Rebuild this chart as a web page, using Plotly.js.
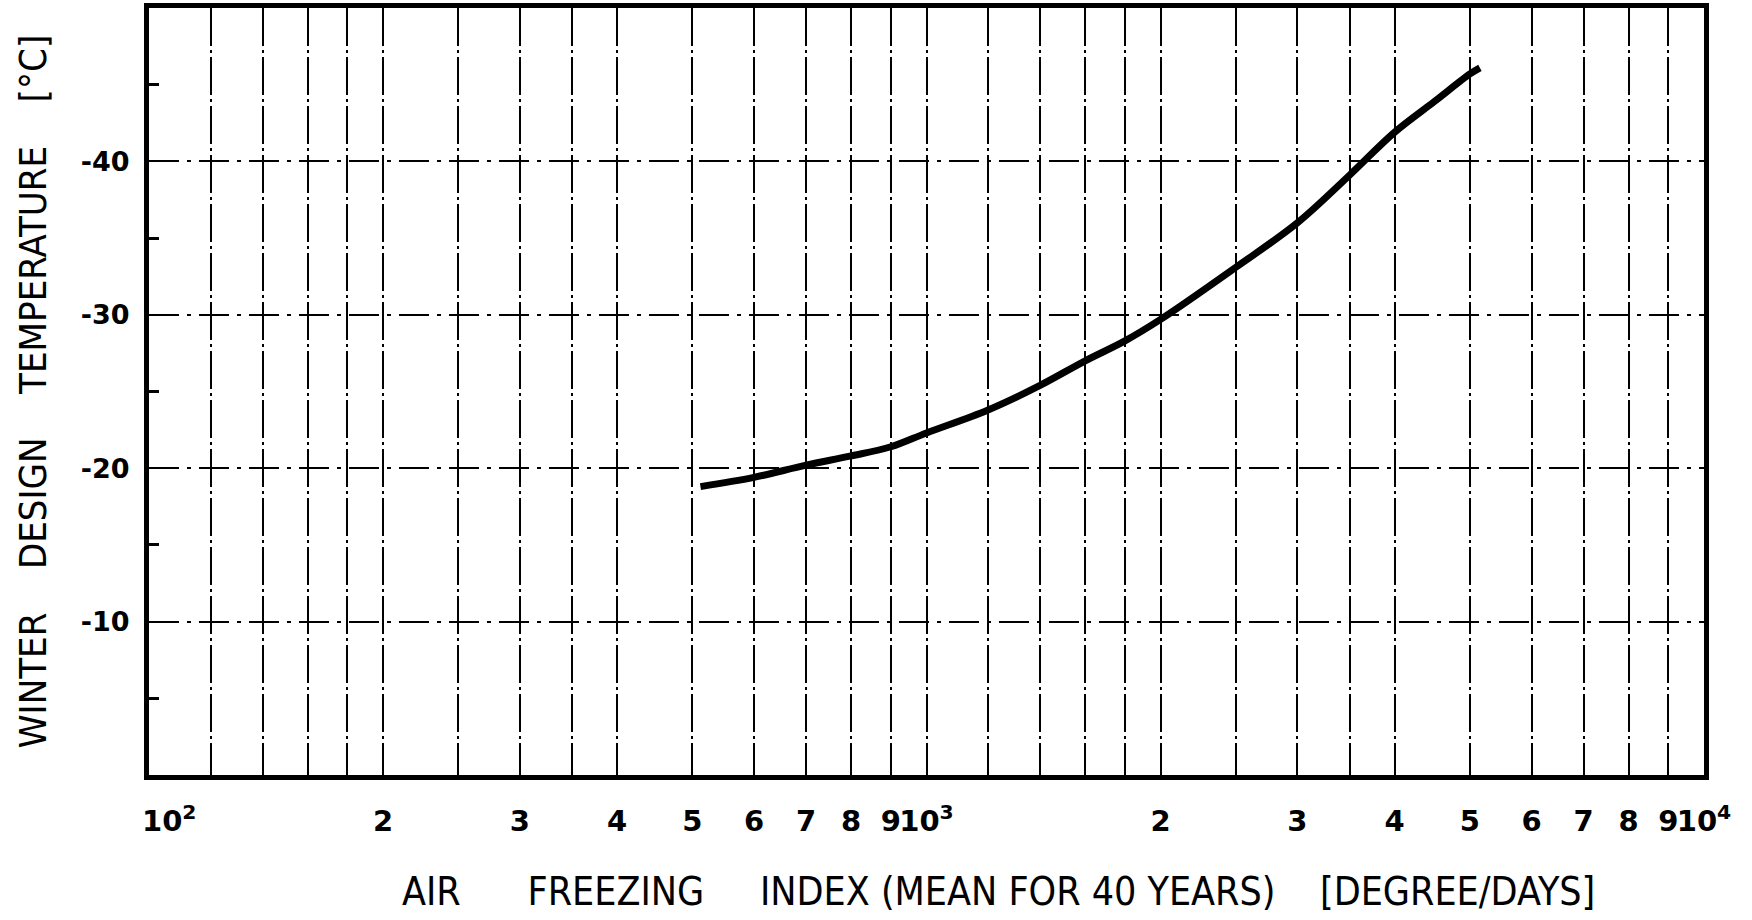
<!DOCTYPE html>
<html>
<head>
<meta charset="utf-8">
<script src="https://cdn.plot.ly/plotly-3.0.1.min.js"></script>
<style>
  html, body { margin: 0; padding: 0; background: #ffffff; }
  #chart { width: 1752px; height: 920px; }
</style>
</head>
<body>
<div id="chart"></div>
<script>
// Air freezing index (degree-days)
const freezingIndex = [512, 600, 700, 800, 900, 1000, 1200, 1400, 1600, 1800, 2000, 2500, 3000, 3500, 4000, 4500, 5000, 5150];
// Winter design temperature (°C)
const designTemp = [-18.8, -19.4, -20.2, -20.8, -21.4, -22.3, -23.8, -25.4, -27.0, -28.3, -29.7, -33.1, -36.0, -39.1, -41.9, -43.9, -45.7, -46.1];

// x-axis labelled ticks
const NB = "\u00A0";
const xTickVals = [100, 200, 300, 400, 500, 600, 700, 800, 900,
                   1000, 2000, 3000, 4000, 5000, 6000, 7000, 8000, 9000, 10000];
const xTickText = [NB.repeat(4) + "10<sup>2</sup>", "2", "3", "4", "5", "6", "7", "8", "9",
                   "10<sup>3</sup>", "2", "3", "4", "5", "6", "7", "8", "9", "10<sup>4</sup>"];
// extra grid lines between labelled ticks
const xMinorVals = [120, 140, 160, 180, 250, 350, 1200, 1400, 1600, 1800, 2500, 3500];

// y-axis ticks
const yTickVals = [-10, -20, -30, -40];
const yTickText = ["-10", "-20", "-30", "-40"];
const yMinorVals = [-5, -15, -25, -35, -45];

const xTitle = "AIR" + NB.repeat(6) + "FREEZING" + NB.repeat(5) + "INDEX" + NB + "(MEAN" + NB + "FOR" + NB + "40" + NB + "YEARS)" + NB.repeat(4) + "[DEGREE/DAYS]";
const yTitle = "WINTER" + NB.repeat(4) + "DESIGN" + NB.repeat(4) + "TEMPERATURE" + NB.repeat(4) + "[°C]";

const titleFont = { family: '"DejaVu Sans Condensed", "Liberation Sans Narrow", "DejaVu Sans", sans-serif', size: 38, color: '#000' };
const xTitleFont = { family: '"DejaVu Sans Condensed", "Liberation Sans Narrow", "DejaVu Sans", sans-serif', size: 39, color: '#000' };
const xTickFont = { family: '"DejaVu Sans", "Liberation Sans", sans-serif', size: 29, color: '#000', weight: 'bold' };
const yTickFont = { family: '"DejaVu Sans", "Liberation Sans", sans-serif', size: 27, color: '#000', weight: 'bold' };

const trace = {
  x: freezingIndex,
  y: designTemp,
  type: 'scatter',
  mode: 'lines',
  line: { color: '#000', width: 7, shape: 'spline', smoothing: 1 },
  hoverinfo: 'x+y',
  showlegend: false
};

const layout = {
  width: 1752,
  height: 920,
  paper_bgcolor: '#ffffff',
  plot_bgcolor: '#ffffff',
  margin: { l: 149, r: 48, t: 8, b: 145 },
  showlegend: false,
  xaxis: {
    type: 'log',
    range: [2, 4],
    tickmode: 'array',
    tickvals: xTickVals,
    ticktext: xTickText,
    tickfont: xTickFont,
    tickangle: 0,
    ticks: '',
    ticklabelstandoff: 16,
    ticklabeloverflow: 'allow',
    showgrid: true,
    gridcolor: '#000',
    gridwidth: 2,
    griddash: '38px,4px,3px,4px',
    showline: true,
    linecolor: '#000',
    linewidth: 5,
    mirror: true,
    zeroline: false,
    minor: {
      tickmode: 'array',
      tickvals: xMinorVals,
      ticks: '',
      showgrid: true,
      gridcolor: '#000',
      gridwidth: 2,
      griddash: '38px,4px,3px,4px'
    }
  },
  yaxis: {
    range: [0, -50],
    tickmode: 'array',
    tickvals: yTickVals,
    ticktext: yTickText,
    tickfont: yTickFont,
    ticks: '',
    ticklabelstandoff: 9,
    showgrid: true,
    gridcolor: '#000',
    gridwidth: 2,
    griddash: '30px,8px,4px,8px',
    showline: true,
    linecolor: '#000',
    linewidth: 5,
    mirror: true,
    zeroline: false,
    title: { text: yTitle, font: titleFont, standoff: 24 },
    minor: {
      tickmode: 'array',
      tickvals: yMinorVals,
      ticks: 'inside',
      ticklen: 10,
      tickwidth: 3,
      tickcolor: '#000',
      showgrid: false
    }
  },
  annotations: [{
    text: xTitle,
    xref: 'paper', yref: 'paper',
    x: 0.546, y: -0.152,
    xanchor: 'center', yanchor: 'middle',
    showarrow: false,
    font: xTitleFont
  }]
};

Plotly.newPlot('chart', [trace], layout, { displayModeBar: false, staticPlot: true });
</script>
</body>
</html>
